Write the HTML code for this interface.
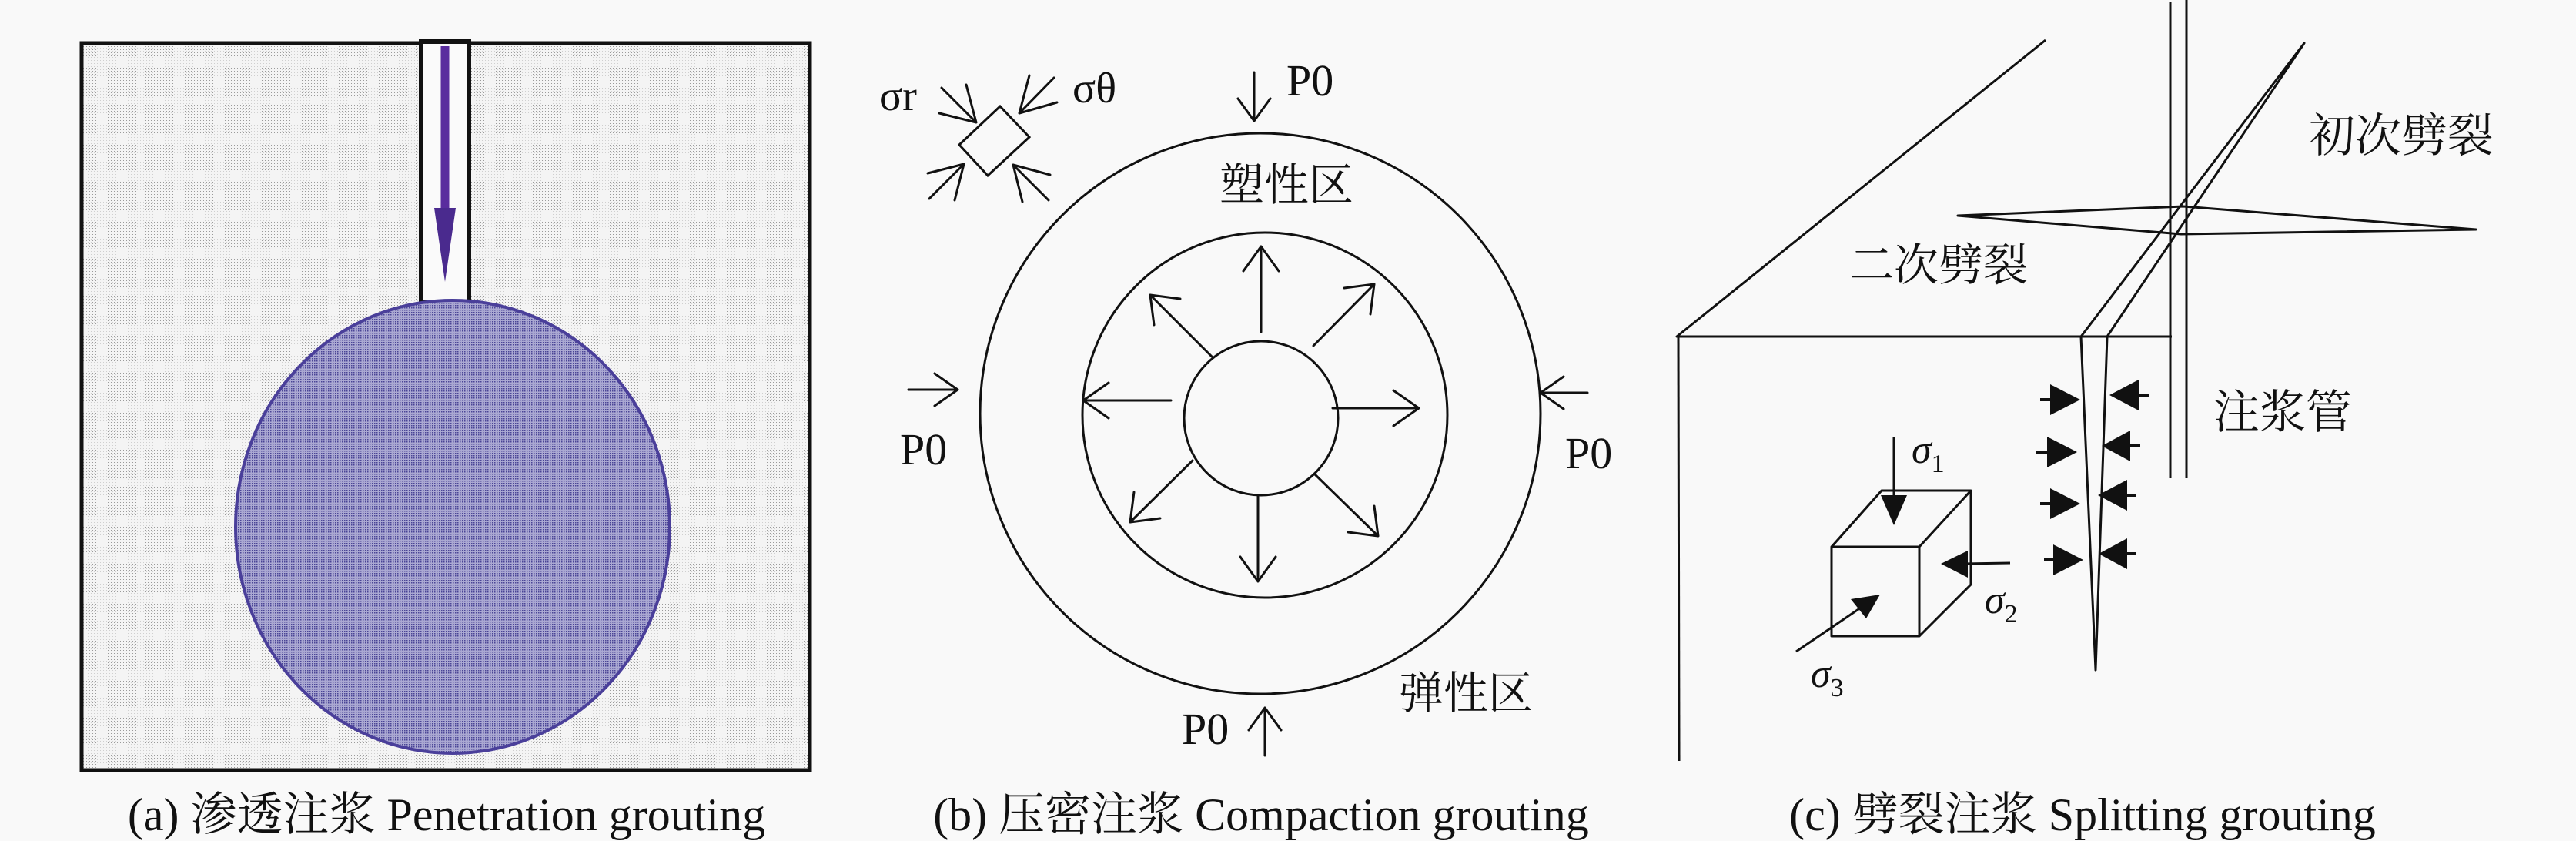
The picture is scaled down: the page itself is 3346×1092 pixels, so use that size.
<!DOCTYPE html>
<html><head><meta charset="utf-8"><style>
html,body{margin:0;padding:0;background:#f9f9f9;}
svg{display:block;}
text{font-family:"Liberation Serif","Noto Serif CJK SC","Noto Sans CJK SC",serif;fill:#111;}
</style></head><body>
<svg width="3346" height="1092" viewBox="0 0 3346 1092" xmlns="http://www.w3.org/2000/svg">
<defs>
<pattern id="dots" width="4" height="4" patternUnits="userSpaceOnUse">
<rect width="4" height="4" fill="#f4f4f4"/><rect x="0" y="0" width="1" height="1" fill="#9a9a9a"/><rect x="2" y="2" width="1" height="1" fill="#cfcfcf"/>
</pattern>
<pattern id="pdots" width="3" height="3" patternUnits="userSpaceOnUse">
<rect width="3" height="3" fill="#aaa8d2"/><rect x="0" y="0" width="1.5" height="1.5" fill="#4a4596"/>
</pattern>
</defs>

<!-- Panel (a) -->
<rect x="106" y="56" width="946" height="944" fill="url(#dots)" stroke="#111" stroke-width="5"/>
<rect x="547" y="54" width="62" height="338" fill="#fafafa" stroke="#111" stroke-width="6"/>
<ellipse cx="588" cy="684" rx="282" ry="294" fill="url(#pdots)" stroke="#4a3f9a" stroke-width="4"/>
<line x1="578" y1="60" x2="578" y2="275" stroke="#5a2d9e" stroke-width="11"/>
<polygon points="564,270 592,270 578,366" fill="#4a2a8e"/>
<text x="580" y="1078" font-size="60" text-anchor="middle">(a) 渗透注浆 Penetration grouting</text>

<!-- Panel (b) -->
<g fill="none" stroke="#111" stroke-width="3">
<circle cx="1637" cy="537" r="364"/>
<circle cx="1643" cy="539" r="237"/>
<circle cx="1638" cy="543" r="100"/>
<polygon points="1299,138 1337,178 1283,228 1246,188"/>
</g>
<g fill="none" stroke="#111" stroke-width="3" stroke-linecap="round" stroke-linejoin="round">
<path d="M1638,431 L1638,320 M1615,352 L1638,320 L1661,352"/>
<path d="M1634,644 L1634,755 M1611,723 L1634,755 L1657,723"/>
<path d="M1521,520 L1407,520 M1440,497 L1407,520 L1440,543"/>
<path d="M1731,530 L1843,530 M1810,507 L1843,530 L1810,553"/>
<path d="M1574,463 L1494,383 M1499,422 L1494,383 L1533,388"/>
<path d="M1706,449 L1785,369 M1746,374 L1785,369 L1780,408"/>
<path d="M1549,598 L1468,678 M1507,673 L1468,678 L1473,639"/>
<path d="M1708,616 L1790,696 M1785,657 L1790,696 L1751,691"/>
<path d="M1629,94 L1629,157 M1608,128 L1629,157 L1650,128"/>
<path d="M1180,506 L1244,506 M1214,485 L1244,506 L1214,527"/>
<path d="M2062,510 L2001,510 M2031,489 L2001,510 L2031,531"/>
<path d="M1643,981 L1643,919 M1622,948 L1643,919 L1664,948"/>
<path d="M1223,114 L1268,159 M1255,110 L1268,159 L1220,147"/>
<path d="M1369,101 L1324,147 M1337,98 L1324,147 L1373,133"/>
<path d="M1207,258 L1252,213 M1205,225 L1252,213 L1240,260"/>
<path d="M1362,260 L1316,214 M1328,262 L1316,214 L1364,227"/>
</g>
<text x="1142" y="143" font-size="56">σr</text>
<text x="1393" y="133" font-size="56">σθ</text>
<text x="1671" y="124" font-size="58">P0</text>
<text x="1169" y="603" font-size="58">P0</text>
<text x="2033" y="608" font-size="58">P0</text>
<text x="1535" y="966" font-size="58">P0</text>
<text x="1584" y="260" font-size="58">塑性区</text>
<text x="1817" y="920" font-size="58">弹性区</text>
<text x="1638" y="1078" font-size="60" text-anchor="middle">(b) 压密注浆 Compaction grouting</text>

<!-- Panel (c) -->
<g fill="none" stroke="#111" stroke-width="3" stroke-linejoin="round">
<polyline points="2657,52 2178,437 2821,437"/>
<line x1="2180" y1="437" x2="2181" y2="988"/>
<line x1="2819" y1="3" x2="2819" y2="621"/>
<line x1="2840" y1="0" x2="2840" y2="621"/>
<polyline points="2703,437 2993,56 2737,437"/>
<polyline points="2703,437 2722,870 2737,437"/>
<polygon points="2543,280 2836,268 3216,298 2833,304"/>
<rect x="2379" y="710" width="114" height="116"/>
<polyline points="2379,710 2444,637 2560,637 2560,759 2493,826"/>
<line x1="2493" y1="710" x2="2560" y2="637"/>
<line x1="2460" y1="567" x2="2460" y2="650"/>
<line x1="2611" y1="731" x2="2550" y2="732"/>
<line x1="2333" y1="846" x2="2420" y2="787"/>
</g>
<g fill="#111">
<polygon points="2443,643 2477,643 2460,682"/>
<polygon points="2521,732 2556,715 2556,750"/>
<polygon points="2442,772 2404,778 2424,803"/>
<polygon points="2663,499 2663,539 2702,519"/><rect x="2650" y="517" width="14" height="4"/>
<polygon points="2659,567 2659,607 2698,587"/><rect x="2645" y="585" width="14" height="4"/>
<polygon points="2663,634 2663,674 2702,654"/><rect x="2650" y="652" width="14" height="4"/>
<polygon points="2667,707 2667,747 2706,727"/><rect x="2655" y="725" width="14" height="4"/>
<polygon points="2778,493 2778,533 2740,513"/><rect x="2777" y="511" width="15" height="4"/>
<polygon points="2767,559 2767,599 2730,579"/><rect x="2766" y="577" width="14" height="4"/>
<polygon points="2763,623 2763,663 2725,643"/><rect x="2762" y="641" width="13" height="4"/>
<polygon points="2763,699 2763,739 2726,719"/><rect x="2762" y="717" width="13" height="4"/>
</g>
<text x="2999" y="197" font-size="60">初次劈裂</text>
<text x="2402" y="364" font-size="58">二次劈裂</text>
<text x="2875" y="556" font-size="60">注浆管</text>
<text x="2483" y="601" font-size="52" font-style="italic">σ<tspan font-size="34" dy="12" font-style="normal">1</tspan></text>
<text x="2578" y="796" font-size="52" font-style="italic">σ<tspan font-size="34" dy="12" font-style="normal">2</tspan></text>
<text x="2352" y="892" font-size="52" font-style="italic">σ<tspan font-size="34" dy="12" font-style="normal">3</tspan></text>
<text x="2705" y="1078" font-size="60" text-anchor="middle">(c) 劈裂注浆 Splitting grouting</text>
</svg>
</body></html>
